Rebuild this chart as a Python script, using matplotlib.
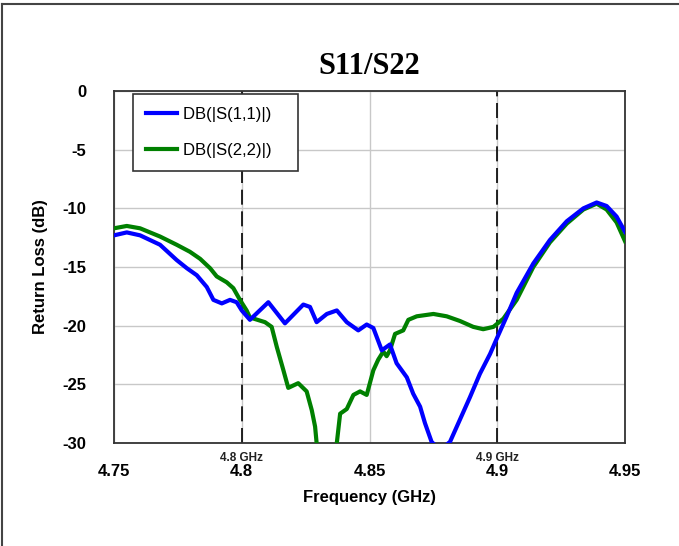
"""S11/S22 return loss chart."""

import matplotlib

matplotlib.use("Agg")
import matplotlib.pyplot as plt
from matplotlib.lines import Line2D

plt.rcParams["axes.unicode_minus"] = False

# S11 trace (GHz, dB)
s11_freq = [4.7500, 4.7550, 4.7602, 4.7680, 4.7745, 4.7785, 4.7824, 4.7863, 4.7889,
            4.7922, 4.7954, 4.7980, 4.8000, 4.8032, 4.8104, 4.8169, 4.8241, 4.8267,
            4.8293, 4.8333, 4.8372, 4.8411, 4.8456, 4.8489, 4.8515, 4.8548, 4.8580,
            4.8606, 4.8646, 4.8671, 4.8698, 4.8717, 4.8743, 4.8776, 4.8815, 4.8854,
            4.8893, 4.8932, 4.8972, 4.8998, 4.9037, 4.9076, 4.9141, 4.9206, 4.9272,
            4.9337, 4.9389, 4.9428, 4.9467, 4.9500]
s11_db = [-12.3, -12.05, -12.3, -13.1, -14.4, -15.1, -15.7, -16.7, -17.8,
          -18.1, -17.8, -18.0, -18.7, -19.5, -18.0, -19.8, -18.2, -18.4,
          -19.7, -19.0, -18.7, -19.7, -20.4, -19.9, -20.2, -22.1, -21.6,
          -23.2, -24.4, -25.8, -26.9, -28.3, -29.9, -30.6, -29.9, -28.0,
          -26.1, -24.1, -22.4, -21.1, -19.2, -17.2, -14.7, -12.7, -11.1,
          -10.0, -9.5, -9.8, -10.7, -12.0]

# S22 trace (GHz, dB)
s22_freq = [4.7500, 4.7550, 4.7602, 4.7680, 4.7745, 4.7797, 4.7837, 4.7876, 4.7902,
            4.7941, 4.7967, 4.7993, 4.8019, 4.8032, 4.8091, 4.8117, 4.8137, 4.8163,
            4.8182, 4.8221, 4.8254, 4.8274, 4.8287, 4.8293, 4.8330, 4.8372, 4.8385,
            4.8411, 4.8437, 4.8463, 4.8489, 4.8515, 4.8534, 4.8554, 4.8567, 4.8580,
            4.8600, 4.8632, 4.8652, 4.8685, 4.8750, 4.8802, 4.8854, 4.8906, 4.8945,
            4.8985, 4.9024, 4.9076, 4.9141, 4.9206, 4.9272, 4.9337, 4.9389, 4.9428,
            4.9467, 4.9500]
s22_db = [-11.7, -11.5, -11.7, -12.4, -13.1, -13.7, -14.3, -15.1, -15.8,
          -16.3, -16.8, -17.8, -18.7, -19.3, -19.7, -20.1, -21.8, -23.8,
          -25.3, -24.9, -25.6, -27.2, -28.6, -30.0, -33.0, -30.0, -27.5,
          -27.1, -25.9, -25.6, -25.9, -23.8, -22.9, -22.2, -22.6, -22.1,
          -20.7, -20.4, -19.5, -19.2, -19.0, -19.2, -19.6, -20.1, -20.3,
          -20.1, -19.4, -17.8, -15.0, -12.9, -11.3, -10.1, -9.6, -10.1,
          -11.2, -12.8]

x_ticks = [4.75, 4.8, 4.85, 4.9, 4.95]
x_tick_labels = ["4.75", "4.8", "4.85", "4.9", "4.95"]
y_ticks = [0, -5, -10, -15, -20, -25, -30]
markers = [4.8, 4.9]
marker_labels = ["4.8 GHz", "4.9 GHz"]

SANS = "Liberation Sans"

fig = plt.figure(figsize=(6.79, 5.46), dpi=100)
ax = fig.add_axes([0.1679, 0.1886, 0.7526, 0.6447])

# outer frame (left and top edges)
fig.add_artist(Line2D([2 / 679, 2 / 679], [0, 1 - 4 / 546], transform=fig.transFigure,
                      color="#444444", linewidth=1.5))
fig.add_artist(Line2D([2 / 679, 1], [1 - 4 / 546, 1 - 4 / 546], transform=fig.transFigure,
                      color="#444444", linewidth=1.5))

ax.plot(s11_freq, s11_db, color="#0000ff", linewidth=3.0, label="DB(|S(1,1)|)   ", zorder=4)
ax.plot(s22_freq, s22_db, color="#008000", linewidth=3.0, label="DB(|S(2,2)|)   ", zorder=3)

for m, lab in zip(markers, marker_labels):
    ax.axvline(m, color="black", linewidth=1.2, dashes=(9, 4), zorder=2)
    ax.text(m, -30.8, lab, ha="center", va="top", fontsize=8.5, fontweight="bold",
            family=SANS, color="#222222")

ax.set_xlim(4.75, 4.95)
ax.set_ylim(-30, 0)
ax.set_xticks(x_ticks)
ax.set_xticklabels(x_tick_labels)
ax.set_yticks(y_ticks)
ax.grid(True, color="#c8c8c8", linewidth=1.0, zorder=0)
ax.set_axisbelow(True)
ax.tick_params(length=0, labelsize=12, pad=15)
for lbl in ax.get_xticklabels() + ax.get_yticklabels():
    lbl.set_fontweight("bold")
    lbl.set_family(SANS)
ax.tick_params(axis="y", pad=20)

for sp in ax.spines.values():
    sp.set_color("#333333")
    sp.set_linewidth(1.3)

ax.set_xlabel("Frequency (GHz)", fontsize=12, fontweight="bold", family=SANS, labelpad=8)
ax.set_ylabel("Return Loss (dB)", fontsize=12, fontweight="bold", family=SANS, labelpad=10)
ax.set_title("S11/S22", fontsize=22, fontweight="bold", family="Liberation Serif", pad=12)

leg = ax.legend(loc="upper left", bbox_to_anchor=(0.0372, 0.9915),
                prop={"family": SANS, "size": 12}, fancybox=False, framealpha=1,
                edgecolor="#333333", labelspacing=1.3, handlelength=1.9,
                handletextpad=0.35, borderpad=0.75, borderaxespad=0)
leg.get_frame().set_linewidth(1.2)
for line in leg.get_lines():
    line.set_linewidth(3.0)

fig.savefig("out.png", dpi=100)
